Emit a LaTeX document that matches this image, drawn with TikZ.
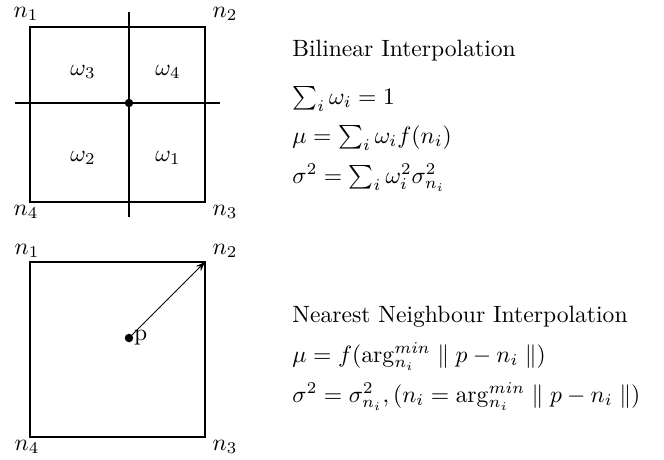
\documentclass[tikz,border=0pt]{standalone}
\usetikzlibrary{arrows.meta}
\begin{document}
\begin{tikzpicture}[x=0.424pt,y=-0.424pt,
  box/.style={draw,line width=0.55pt},
  axis/.style={draw,line width=0.55pt},
  lbl/.style={inner sep=0pt},
  txt/.style={anchor=base west,inner sep=0pt},
  dotmark/.style={fill,circle,inner sep=0pt,minimum size=3.6pt}]
\useasboundingbox (0,0) rectangle (664,459);
% top square
\coordinate (a1) at (30,27);
\coordinate (a2) at (205,27);
\coordinate (a3) at (205,202);
\coordinate (a4) at (30,202);
\draw[box] (a1) -- (a2) -- (a3) -- (a4) -- cycle;
\coordinate (vt) at (129,12);
\coordinate (vb) at (129,217);
\coordinate (hl) at (15,103);
\coordinate (hr) at (220,103);
\draw[axis] (vt) -- (vb);
\draw[axis] (hl) -- (hr);
\node[dotmark] (c) at (129,103) {};
\node[lbl] (tn1) at (26,14) {$n_1$};
\node[lbl] (tn2) at (225,14) {$n_2$};
\node[lbl] (tn4) at (26,212) {$n_4$};
\node[lbl] (tn3) at (225,212) {$n_3$};
\node[lbl] (w3) at (83,72) {$\omega_3$};
\node[lbl] (w4) at (168,72) {$\omega_4$};
\node[lbl] (w2) at (83,158) {$\omega_2$};
\node[lbl] (w1) at (168,158) {$\omega_1$};
% bottom square
\coordinate (b1) at (30,262);
\coordinate (b2) at (205,262);
\coordinate (b3) at (205,437);
\coordinate (b4) at (30,437);
\draw[box] (b1) -- (b2) -- (b3) -- (b4) -- cycle;
\node[dotmark] (p) at (129,338) {};
\node[lbl,anchor=west] (pl) at (p.east) {p};
\draw[line width=0.4pt,-{Stealth[length=4pt,width=3pt]}] (p.center) -- (b2);
\node[lbl] (bn1) at (27,251) {$n_1$};
\node[lbl] (bn2) at (225,251) {$n_2$};
\node[lbl] (bn4) at (27,447) {$n_4$};
\node[lbl] (bn3) at (225,447) {$n_3$};
% text
\node[txt] (t1) at (292,56) {Bilinear Interpolation};
\node[txt] (t2) at (292,104) {$\sum_i \omega_i = 1$};
\node[txt] (t3) at (292,143) {$\mu = \sum_i \omega_i f(n_i)$};
\node[txt] (t4) at (292,183) {$\sigma^2 = \sum_i \omega_i^2 \sigma_{n_i}^2$};
\node[txt] (u1) at (292,322) {Nearest Neighbour Interpolation};
\node[txt] (u2) at (292,362) {$\mu = f(\arg_{n_i}^{min} \parallel p - n_i \parallel)$};
\node[txt] (u3) at (292,402) {$\sigma^2 = \sigma_{n_i}^2, (n_i = \arg_{n_i}^{min} \parallel p - n_i \parallel)$};
\end{tikzpicture}
\end{document}
